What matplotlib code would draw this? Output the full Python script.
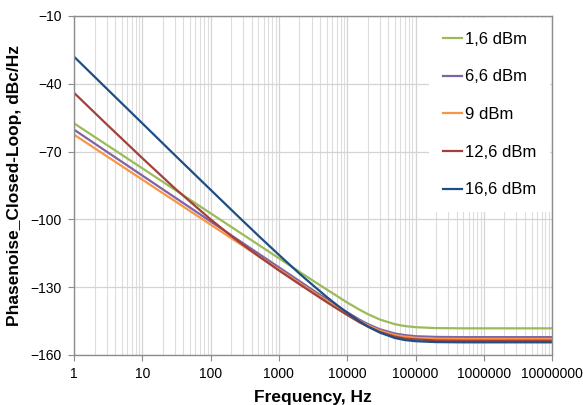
import matplotlib
matplotlib.use("Agg")
import matplotlib.pyplot as plt
from matplotlib.ticker import LogLocator, FixedLocator, NullFormatter

plt.rcParams["font.family"] = ["Liberation Sans", "DejaVu Sans"]

freq = [1, 3, 10, 30, 100, 200, 300, 500, 1000, 2000, 3000, 5000, 7000,
        10000, 15000, 20000, 30000, 50000, 70000, 100000, 200000, 500000,
        1000000, 10000000]

# Closed-loop phase noise, dBc/Hz, per reference power
pn_1_6 = [-57.5, -67.0, -77.4, -86.9, -97.3, -103.3, -106.8, -111.2, -117.2,
          -123.2, -126.7, -131.0, -133.8, -136.8, -139.9, -141.9, -144.3,
          -146.4, -147.2, -147.7, -148.1, -148.2, -148.2, -148.2]
pn_6_6 = [-60.3, -70.0, -80.6, -90.3, -100.9, -107.0, -110.6, -115.1, -121.2,
          -127.3, -130.9, -135.3, -138.2, -141.1, -144.3, -146.3, -148.6,
          -150.5, -151.2, -151.7, -152.0, -152.1, -152.1, -152.1]
pn_9 = [-62.5, -72.0, -82.4, -91.9, -102.3, -108.3, -111.8, -116.2, -122.2,
        -128.2, -131.7, -136.0, -138.8, -141.7, -144.9, -146.9, -149.2,
        -151.2, -151.9, -152.4, -152.8, -152.9, -152.9, -152.9]
pn_12_6 = [-44.0, -57.9, -72.9, -86.3, -100.0, -107.3, -111.3, -116.2, -122.6,
           -128.7, -132.2, -136.6, -139.4, -142.3, -145.5, -147.4, -149.8,
           -151.9, -152.7, -153.1, -153.55, -153.7, -153.7, -153.7]
pn_16_6 = [-28.0, -42.1, -57.5, -71.6, -86.9, -95.7, -100.8, -107.2, -115.7,
           -124.0, -128.6, -134.3, -137.8, -141.3, -145.0, -147.4, -150.1,
           -152.5, -153.4, -153.9, -154.3, -154.4, -154.4, -154.4]

labels = ["1,6 dBm", "6,6 dBm", "9 dBm", "12,6 dBm", "16,6 dBm"]
series = [pn_1_6, pn_6_6, pn_9, pn_12_6, pn_16_6]
colors = ["#9BBB59", "#8064A2", "#F79646", "#A3403D", "#1F4E85"]

yticks = [-160, -130, -100, -70, -40, -10]
xticks = [1, 10, 100, 1000, 10000, 100000, 1000000, 10000000]

fig = plt.figure(figsize=(5.83, 4.05), dpi=100)
ax = fig.add_axes([0.127, 0.1235, 0.820, 0.837])

for vals, lab, col in zip(series, labels, colors):
    ax.plot(freq, vals, color=col, lw=1.6, label=lab)

ax.set_xscale("log")
ax.set_xlim(1, 1e7)
ax.set_ylim(-160, -10)
ax.xaxis.set_major_locator(FixedLocator(xticks))
ax.set_xticklabels([str(t) for t in xticks])
ax.xaxis.set_minor_locator(LogLocator(base=10, subs=range(2, 10), numticks=20))
ax.xaxis.set_minor_formatter(NullFormatter())
ax.set_yticks(yticks)

ax.grid(True, which="major", color="#D4D4D4", lw=0.9)
ax.grid(True, which="minor", axis="x", color="#DDDDDD", lw=0.8)
ax.set_axisbelow(True)

for sp in ax.spines.values():
    sp.set_color("#8C8C8C")
    sp.set_linewidth(1.0)

ax.tick_params(axis="both", which="major", direction="out", length=4,
               color="#8C8C8C", labelsize=10, pad=5)
ax.tick_params(axis="x", which="minor", length=0)

ax.set_xlabel("Frequency, Hz", fontsize=12.5, fontweight="bold", labelpad=6)
ax.set_ylabel("Phasenoise_Closed-Loop, dBc/Hz", fontsize=12.5,
              fontweight="bold", labelpad=6)

leg = ax.legend(loc="upper right", bbox_to_anchor=(1.0, 1.0), borderaxespad=0.1,
                fontsize=12, frameon=True, fancybox=False, handlelength=1.15,
                handletextpad=0.15, labelspacing=1.36, borderpad=0.85)
leg.get_frame().set_facecolor("white")
leg.get_frame().set_edgecolor("none")
leg.get_frame().set_alpha(1.0)

fig.savefig("out.png", dpi=100)
